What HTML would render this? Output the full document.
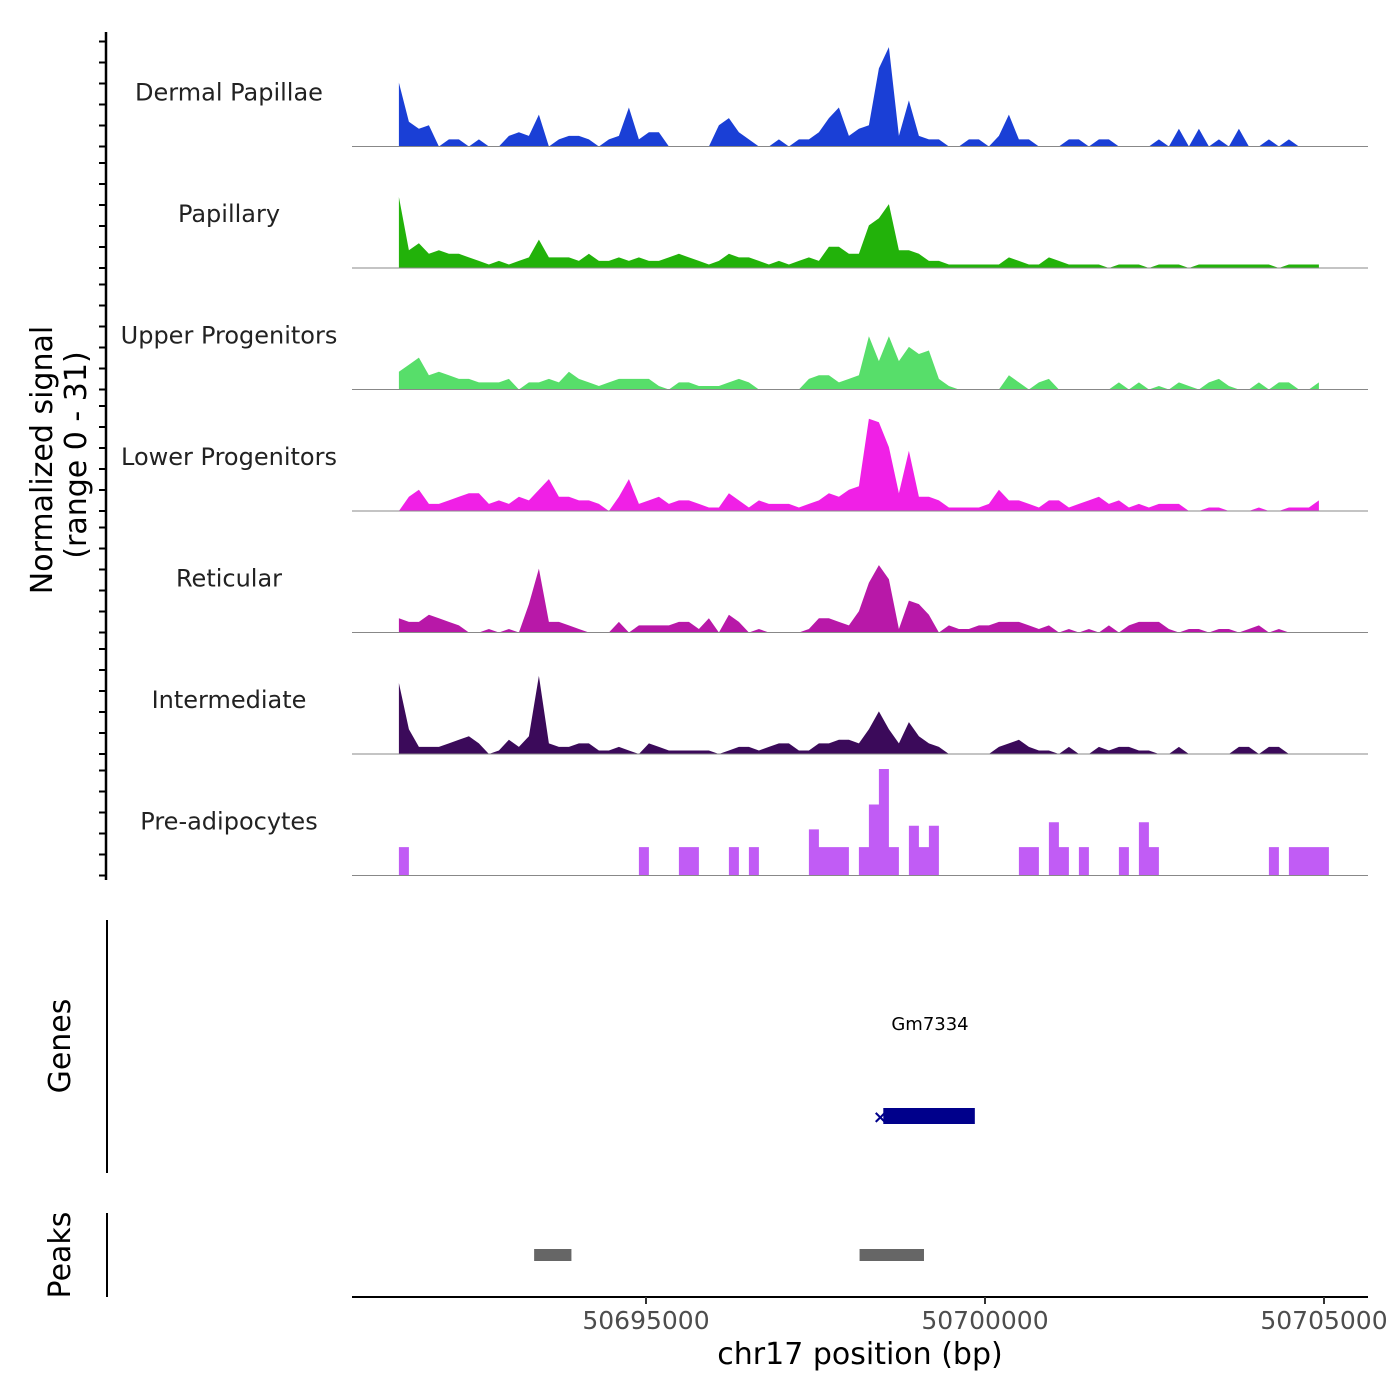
<!DOCTYPE html>
<html><head><meta charset="utf-8"><style>
html,body{margin:0;padding:0;background:#fff;}
svg{display:block;font-family:"DejaVu Sans","Liberation Sans",sans-serif;}
</style></head><body>
<svg id="chart" width="1400" height="1400" viewBox="0 0 1400 1400" xmlns="http://www.w3.org/2000/svg">
<g id="tracks"></g>
<g id="leftaxis"></g>
<text transform="translate(52,460) rotate(-90)" text-anchor="middle" font-size="30" fill="#000">Normalized signal</text>
<text transform="translate(86,455) rotate(-90)" text-anchor="middle" font-size="30" fill="#000">(range 0 - 31)</text>
<line x1="107" y1="920" x2="107" y2="1173" stroke="#000" stroke-width="2"/>
<text transform="translate(70,1046) rotate(-90)" text-anchor="middle" font-size="30" fill="#000">Genes</text>
<text x="930" y="1030" text-anchor="middle" font-size="18" fill="#000">Gm7334</text>
<g id="genes"></g>
<line x1="107" y1="1213" x2="107" y2="1297" stroke="#000" stroke-width="2"/>
<text transform="translate(70,1255) rotate(-90)" text-anchor="middle" font-size="30" fill="#000">Peaks</text>
<g id="peaks"></g>
<line x1="352" y1="1297" x2="1368" y2="1297" stroke="#000" stroke-width="2"/>
<g id="xaxis"></g>
<text x="860" y="1364" text-anchor="middle" font-size="30" fill="#000">chr17 position (bp)</text>
</svg>
<script>
const NS="http://www.w3.org/2000/svg";
const binStartBp=50691355;
const binSizeBp=147.5;
const trackNames=["Dermal Papillae","Papillary","Upper Progenitors","Lower Progenitors","Reticular","Intermediate","Pre-adipocytes"];
const trackColors=["#1a3fd6","#22b20a","#57de6a","#f020e6","#b818a8","#3b0a5a","#c15cf5"];
const dermal=[18,7,5,6,0,2,2,0,2,0,0,3,4,3,9,0,2,3,3,2,0,2,3,11,2,4,4,0,0,0,0,0,6,8,4,2,0,0,2,0,2,2,4,8,11,3,5,6,22,28,3,13,3,2,2,0,0,2,2,0,3,9,2,2,0,0,0,2,2,0,2,2,0,0,0,0,2,0,5,0,5,0,2,0,5,0,0,2,0,2,0,0,0];
const papillary=[20,5,7,4,5,4,4,3,2,1,2,1,2,3,8,3,3,3,2,4,2,2,3,2,3,2,2,3,4,3,2,1,2,4,3,3,2,1,2,1,2,3,2,6,6,4,4,12,14,18,5,5,4,2,2,1,1,1,1,1,1,3,2,1,1,3,2,1,1,1,1,0,1,1,1,0,1,1,1,0,1,1,1,1,1,1,1,1,0,1,1,1,1];
const upper=[5,7,9,4,5,4,3,3,2,2,2,3,0,2,2,3,2,5,3,2,1,2,3,3,3,3,1,0,2,2,1,1,1,2,3,2,0,0,0,0,0,3,4,4,2,3,4,15,8,15,8,12,10,11,3,1,0,0,0,0,0,4,2,0,2,3,0,0,0,0,0,0,2,0,2,0,1,0,2,1,0,2,3,1,0,0,2,0,2,2,0,0,2];
const lower=[0,4,6,2,2,3,4,5,5,2,3,2,4,3,6,9,4,4,3,3,2,0,4,9,2,3,4,2,3,3,2,1,1,5,3,1,3,2,2,2,1,2,3,5,4,6,7,26,25,18,5,17,4,4,3,1,1,1,1,2,6,3,3,2,1,3,3,1,2,3,4,2,3,1,2,1,2,2,2,0,0,1,1,0,0,0,1,0,0,1,1,1,3];
const reticular=[4,3,3,5,4,3,2,0,0,1,0,1,0,8,18,3,3,2,1,0,0,0,3,0,2,2,2,2,3,3,1,4,0,5,3,0,1,0,0,0,0,1,4,4,3,2,6,14,19,15,1,9,8,5,0,2,1,1,2,2,3,3,3,2,1,2,0,1,0,1,0,2,0,2,3,3,3,1,0,1,1,0,1,1,0,1,2,0,1,0,0,0,0];
const intermediate=[20,7,2,2,2,3,4,5,3,0,1,4,2,5,22,3,2,2,3,3,1,1,2,1,0,3,2,1,1,1,1,1,0,1,2,2,1,2,3,3,1,1,3,3,4,4,3,7,12,7,3,9,5,3,2,0,0,0,0,0,2,3,4,2,1,1,0,2,0,0,2,1,2,2,1,1,0,0,2,0,0,0,0,0,2,2,0,2,2,0,0,0,0];
const preadipo=[8,0,0,0,0,0,0,0,0,0,0,0,0,0,0,0,0,0,0,0,0,0,0,0,8,0,0,0,8,8,0,0,0,8,0,8,0,0,0,0,0,13,8,8,8,0,8,20,30,8,0,14,8,14,0,0,0,0,0,0,0,0,8,8,0,15,8,0,8,0,0,0,8,0,15,8,0,0,0,0,0,0,0,0,0,0,0,8,0,8,8,8,8];
const trackSeries=[dermal,papillary,upper,lower,reticular,intermediate,preadipo];
const xTickValues=[50695000,50700000,50705000];
const xTickLabels=["50695000","50700000","50705000"];
const peakStarts=[50693350,50698150];
const peakEnds=[50693900,50699100];
const geneStart=50698500;
const geneEnd=50699850;
const yMax=31;

const X=bp=>646+(bp-50695000)*0.0678;
const trackTop=25, trackH=121.5, signalH=110;
const tracksG=document.getElementById('tracks');
trackSeries.forEach((vals,t)=>{
  const base=trackTop+trackH*(t+1);
  const Y=v=>base-v/yMax*signalH;
  let d="M"+X(binStartBp).toFixed(1)+","+base;
  const step=(t===6);
  vals.forEach((v,i)=>{
    const x0=X(binStartBp+i*binSizeBp);
    if(step){
      const x1=X(binStartBp+(i+1)*binSizeBp);
      d+=" L"+x0.toFixed(1)+","+Y(v).toFixed(1)+" L"+x1.toFixed(1)+","+Y(v).toFixed(1);
    } else {
      d+=" L"+x0.toFixed(1)+","+Y(v).toFixed(1);
    }
  });
  const lastX=step?X(binStartBp+vals.length*binSizeBp):X(binStartBp+(vals.length-1)*binSizeBp);
  d+=" L"+lastX.toFixed(1)+","+base+" Z";
  const p=document.createElementNS(NS,'path');
  
  
  p.setAttribute('d',d);p.setAttribute('fill',trackColors[t]);
  tracksG.appendChild(p);
  const l=document.createElementNS(NS,'line');
  
  
  l.setAttribute('x1',352);l.setAttribute('x2',1368);l.setAttribute('y1',base);l.setAttribute('y2',base);
  l.setAttribute('stroke','#888');l.setAttribute('stroke-width','1');
  tracksG.appendChild(l);
  const tx=document.createElementNS(NS,'text');
  
  
  tx.setAttribute('x',229);tx.setAttribute('y',base-46);tx.setAttribute('text-anchor','middle');
  tx.setAttribute('font-size','24');tx.setAttribute('fill','#222');
  tx.textContent=trackNames[t];
  tracksG.appendChild(tx);
});
const la=document.getElementById('leftaxis');
const al=document.createElementNS(NS,'line');


al.setAttribute('x1',106);al.setAttribute('x2',106);al.setAttribute('y1',32);al.setAttribute('y2',880);
al.setAttribute('stroke','#000');al.setAttribute('stroke-width','2.5');
la.appendChild(al);
for(let i=0;i<7;i++){
  const base=trackTop+trackH*(i+1);
  for(let k=0;k<6;k++){
    const y=base-k*21;
    const tk=document.createElementNS(NS,'line');
    
    
    tk.setAttribute('x1',99);tk.setAttribute('x2',106);tk.setAttribute('y1',y);tk.setAttribute('y2',y);
    tk.setAttribute('stroke','#000');tk.setAttribute('stroke-width','2');
    la.appendChild(tk);
  }
}
const gg=document.getElementById('genes');
const gr=document.createElementNS(NS,'rect');


gr.setAttribute('x',X(geneStart));gr.setAttribute('y',1108);gr.setAttribute('width',X(geneEnd)-X(geneStart));gr.setAttribute('height',16);gr.setAttribute('fill','#00008b');
gg.appendChild(gr);
const gs=document.createElementNS(NS,'text');


gs.setAttribute('x',X(geneStart)-3);gs.setAttribute('y',1123);gs.setAttribute('font-size','18');gs.setAttribute('font-weight','bold');gs.setAttribute('fill','#00008b');gs.setAttribute('text-anchor','middle');
gs.textContent="×";
gg.appendChild(gs);
const pg=document.getElementById('peaks');
peakStarts.forEach((s,i)=>{
  const r=document.createElementNS(NS,'rect');
  
  
  r.setAttribute('x',X(s));r.setAttribute('y',1249);r.setAttribute('width',X(peakEnds[i])-X(s));r.setAttribute('height',12);r.setAttribute('fill','#666');
  pg.appendChild(r);
});
const xg=document.getElementById('xaxis');
xTickValues.forEach((v,i)=>{
  const x=X(v);
  const tk=document.createElementNS(NS,'line');
  
  
  tk.setAttribute('x1',x);tk.setAttribute('x2',x);tk.setAttribute('y1',1297);tk.setAttribute('y2',1304);
  tk.setAttribute('stroke','#333');tk.setAttribute('stroke-width','2');
  xg.appendChild(tk);
  const t=document.createElementNS(NS,'text');
  
  
  t.setAttribute('x',x);t.setAttribute('y',1329);t.setAttribute('text-anchor','middle');t.setAttribute('font-size','25');t.setAttribute('fill','#4d4d4d');
  t.textContent=xTickLabels[i];
  xg.appendChild(t);
});
</script>
</body></html>
